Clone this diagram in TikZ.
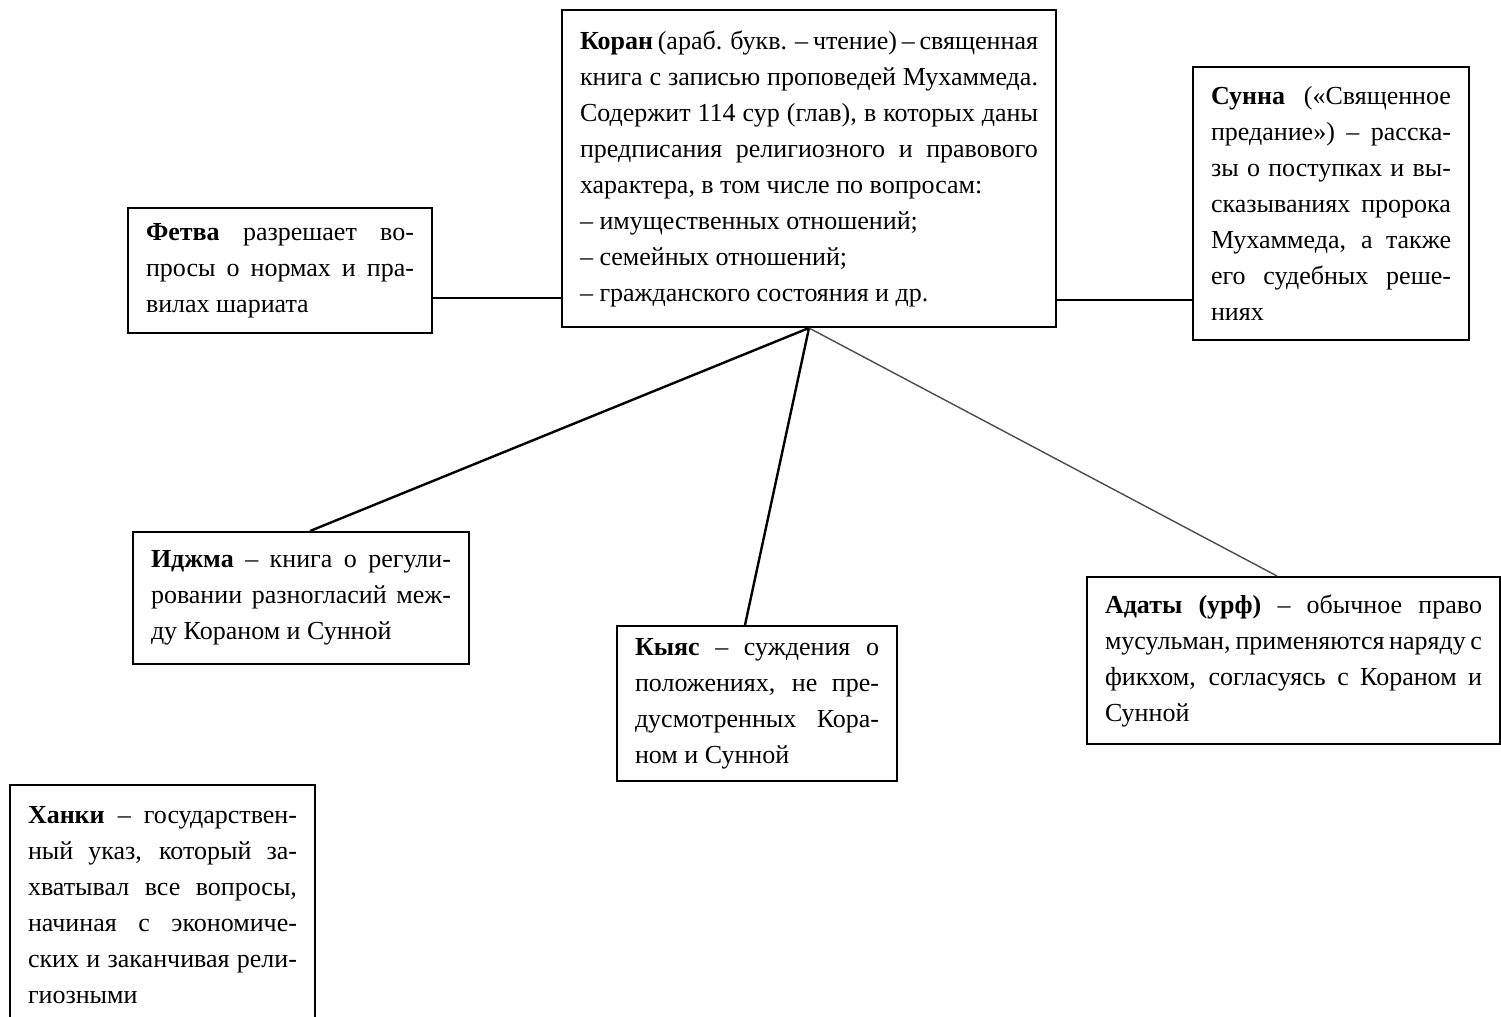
\documentclass[tikz,border=0pt]{standalone}
\usepackage{fontspec}
\setmainfont{Liberation Serif}
\usetikzlibrary{calc}
\tolerance=10000
\exhyphenpenalty=10000
\tikzset{
  every picture/.style={line width=1pt},
  box/.style={draw, fill=white, align=justify, inner xsep=9pt, inner ysep=6pt,
    font=\fontsize{13}{18}\selectfont},
  link/.style={draw=black, line width=1.2pt},
  thinlink/.style={draw=black!70, line width=0.7pt},
}

\begin{document}
\begin{tikzpicture}[x=0.5pt, y=-0.5pt]
  \useasboundingbox[fill=white] (0,0) rectangle (1501,1017);
  % centre: the Koran
  \node[box, text width=229pt, minimum height=158.5pt] (koran) at (809,168.5)
    {\textbf{Коран} (араб. букв. – чтение) – священная\linebreak
     книга с записью проповедей Мухаммеда.\linebreak
     Содержит 114 сур (глав), в которых даны\linebreak
     предписания религиозного и правового\linebreak
     характера, в том числе по вопросам:\\
     – имущественных отношений;\\
     – семейных отношений;\\
     – гражданского состояния и др.};
  % sides of the top row
  \node[box, text width=134pt, minimum height=62.5pt] (fetva) at (280,270.5)
    {\textbf{Фетва} разрешает во-\linebreak
     просы о нормах и пра-\linebreak
     вилах шариата};
  \node[box, text width=120pt, minimum height=136.5pt] (sunna) at (1331,203.5)
    {\textbf{Сунна} («Священное\linebreak
     предание») – расска-\linebreak
     зы о поступках и вы-\linebreak
     сказываниях пророка\linebreak
     Мухаммеда, а также\linebreak
     его судебных реше-\linebreak
     ниях};
  % lower row
  \node[box, text width=150pt, minimum height=66pt] (idzhma) at (301,598)
    {\textbf{Иджма} – книга о регули-\linebreak
     ровании разногласий меж-\linebreak
     ду Кораном и Сунной};
  \node[box, text width=122pt, minimum height=77.5pt] (kyas) at (757,703.5)
    {\textbf{Кыяс} – суждения о\linebreak
     положениях, не пре-\linebreak
     дусмотренных Кора-\linebreak
     ном и Сунной};
  \node[box, text width=188.5pt, minimum height=83.5pt] (adaty) at (1293.5,660.5)
    {\textbf{Адаты (урф)} – обычное право\linebreak
     мусульман, применяются наряду с\linebreak
     фикхом, согласуясь с Кораном и\linebreak
     Сунной};
  % loose box, bottom left
  \node[box, text width=134.5pt, minimum height=120pt] (khanki) at (162.5,905)
    {\textbf{Ханки} – государствен-\linebreak
     ный указ, который за-\linebreak
     хватывал все вопросы,\linebreak
     начиная с экономиче-\linebreak
     ских и заканчивая рели-\linebreak
     гиозными};
  % links
  \draw[link] ($(fetva.east)+(0,27.5)$) -- ($(koran.west |- fetva.east)+(0,27.5)$);
  \draw[link] ($(koran.east |- sunna.west)+(0,96.5)$) -- ($(sunna.west)+(0,96.5)$);
  \draw[link] (koran.south) -- ($(idzhma.north)+(9,0)$);
  \draw[link] (koran.south) -- ($(kyas.north)+(-12,0)$);
  \draw[thinlink] (koran.south) -- ($(adaty.north)+(-16.5,0)$);
\end{tikzpicture}
\end{document}
